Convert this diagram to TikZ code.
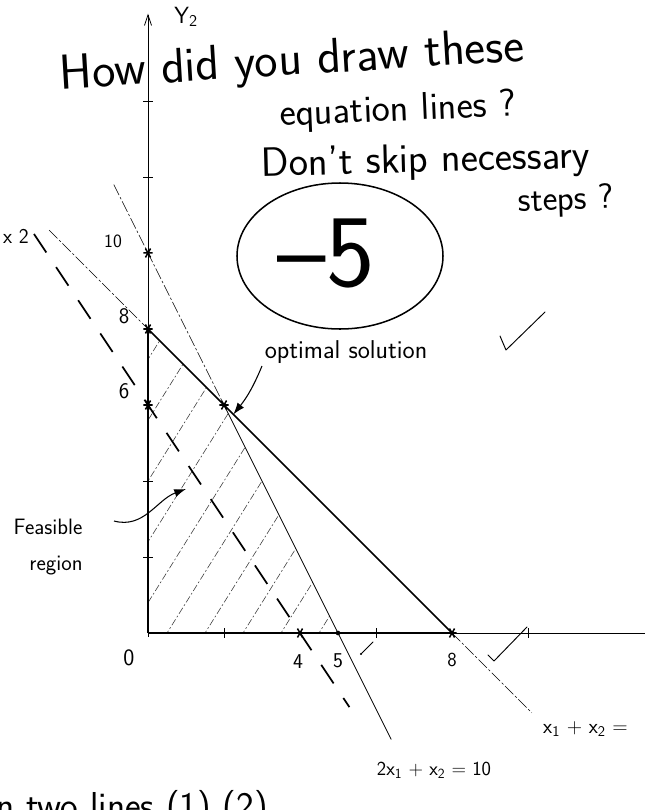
\documentclass[tikz,border=0pt]{standalone}
\usetikzlibrary{arrows.meta,calc}
\tikzset{
  hand/.style={font=\sffamily, inner sep=0pt},
  axthick/.style={line width=1.8pt},
  axthin/.style={line width=0.7pt},
  cline/.style={line width=1.3pt},
  thinl/.style={line width=0.6pt},
  extl/.style={line width=0.5pt, dash pattern=on 10pt off 2pt on 2pt off 2pt},
  objl/.style={line width=1.5pt, dash pattern=on 19pt off 15pt},
  hatchl/.style={line width=0.5pt, black!75, dash pattern=on 6pt off 2pt on 1.5pt off 2pt},
  tickl/.style={line width=0.8pt},
  astk/.pic={\draw[line width=1.3pt] (-4pt,0)--(4pt,0) (-2.2pt,-3.8pt)--(2.2pt,3.8pt) (-2.2pt,3.8pt)--(2.2pt,-3.8pt);},
  arr/.style={line width=0.9pt, -{Latex[length=10pt,width=7pt]}},
  chk/.style={line width=0.8pt, line join=round, line cap=round},
}
\begin{document}
\begin{tikzpicture}[x=0.03cm,y=-0.03cm]
\useasboundingbox (0,0) rectangle (645,810);
\clip (0,0) rectangle (645,810);
\fill[white] (0,0) rectangle (645,810);

\begin{scope}[shift={(148,633)}, x=1.14cm, y=1.14cm]
  % key points
  \coordinate (O) at (0,0);
  \coordinate (A) at (0,8);
  \coordinate (B) at (2,6);
  \coordinate (C) at (5,0);
  \coordinate (D) at (8,0);
  \coordinate (E) at (0,10);
  \coordinate (F) at (0,6);
  \coordinate (G) at (4,0);
  \coordinate (Ytop) at (0,16.3);
  \coordinate (Xend) at (13.2,0);
  \coordinate (L1a) at (-2.6,10.6);
  \coordinate (L1b) at (10.1,-2.1);
  \coordinate (L2a) at (-0.9,11.8);
  \coordinate (L2b) at (6.4,-2.8);
  \coordinate (L3a) at (-3.0,10.5);
  \coordinate (L3b) at (5.3,-1.95);

  % hatching of feasible region
  \begin{scope}
    \clip (O) -- (C) -- (B) -- (A) -- cycle;
    \foreach \c in {-4.5,-3.5,...,4.5}
      \draw[hatchl] (\c-1,-1.6) -- (\c+6,9.6);
  \end{scope}

  % axes
  \draw[axthin, -{Straight Barb[length=9pt,width=6pt]}] (0,-0.1) -- (Ytop);
  \draw[axthick] (O) -- (A);
  \draw[axthin] (O) -- (Xend);
  \draw[axthick] (O) -- (D);
  \foreach \y in {2,4,12,14}
    \draw[tickl] (-0.12,\y) -- (0.12,\y);
  \foreach \x in {2,6,10}
    \draw[tickl] (\x,-0.12) -- (\x,0.12);

  % constraint x1+x2=8
  \draw[extl] (L1a) -- (A);
  \draw[cline] (A) -- (D);
  \draw[extl] (D) -- (L1b);

  % constraint 2x1+x2=10
  \draw[extl] (L2a) -- (B);
  \draw[thinl] (B) -- (C) -- (L2b);

  % objective dashed line
  \draw[objl] (L3a) -- (L3b);

  % marked points
  \foreach \p in {A,B,E,F,G,D} \pic at (\p) {astk};
  \fill (C) circle (2pt);
\end{scope}

% axis labels and numbers
\node[hand, font=\sffamily\fontsize{20}{20}\selectfont] (ylab) at (186,17) {Y\textsubscript{2}};
\node[hand, font=\sffamily\fontsize{18}{18}\selectfont] (xtwo) at (16,236) {x 2};
\node[hand, font=\sffamily\fontsize{16}{16}\selectfont] (n10) at (113,241) {10};
\node[hand, font=\sffamily\fontsize{19}{19}\selectfont] (n8) at (124,316) {8};
\node[hand, font=\sffamily\fontsize{19}{19}\selectfont] (n6) at (124,391) {6};
\node[hand, font=\sffamily\fontsize{20}{20}\selectfont] (n0) at (129,658) {0};
\node[hand, font=\sffamily\fontsize{18}{18}\selectfont] (x4) at (298,662) {4};
\node[hand, font=\sffamily\fontsize{18}{18}\selectfont] (x5) at (338,661) {5};
\node[hand, font=\sffamily\fontsize{17}{17}\selectfont] (x8) at (452,660) {8};

% line labels
\node[hand, font=\sffamily\fontsize{17}{17}\selectfont] (lab2) at (434,770) {2x\textsubscript{1} + x\textsubscript{2} = 10};
\node[hand, font=\sffamily\fontsize{18}{18}\selectfont, anchor=west] (lab1) at (543,729) {x\textsubscript{1} + x\textsubscript{2} = };

% comments
\node[hand, font=\sffamily\fontsize{42}{42}\selectfont, rotate=3.5] (q1) at (292,63) {How did you draw these};
\node[hand, font=\sffamily\fontsize{33}{33}\selectfont, rotate=2.5] (q2) at (398,111) {equation lines ?};
\node[hand, font=\sffamily\fontsize{35}{35}\selectfont, rotate=1.5] (q3) at (426,162) {Don't skip necessary};
\node[hand, font=\sffamily\fontsize{30}{30}\selectfont, rotate=2] (q4) at (566,201) {steps ?};

% circled score
\draw[line width=1.3pt] (340,256) ellipse [x radius=103, y radius=73];
\node[hand, font=\sffamily\fontsize{88}{88}\selectfont] (score) at (326,254) {\textendash5};

% optimal solution
\node[hand, font=\sffamily\fontsize{22}{22}\selectfont] (opt) at (346,352) {optimal solution};
\coordinate (optTail) at (262,366);
\draw[arr] (optTail) to[bend left=8] ($(B)+(8pt,-8pt)$);
\draw[chk] (500,336) -- (506,350) -- (545,312);

% feasible region
\node[hand, font=\sffamily\fontsize{19}{19}\selectfont] (feas) at (48,527) {Feasible};
\node[hand, font=\sffamily\fontsize{19}{19}\selectfont] (reg) at (56,566) {region};
\coordinate (feasTail) at (114,521);
\coordinate (feasTip) at (186,489);
\draw[arr] (feasTail) to[out=-15,in=200] (feasTip);

% check marks on the axis
\draw[chk] (488,655) -- (494,661) -- (527,627);
\draw[chk] (361,654) -- (373,642);
\fill (361,654) circle (1pt);

% bottom cut-off text
\node[hand, font=\sffamily\fontsize{32}{32}\selectfont, anchor=base west] (bottom) at (-4,818) {n two lines (1) (2)};
\end{tikzpicture}
\end{document}
